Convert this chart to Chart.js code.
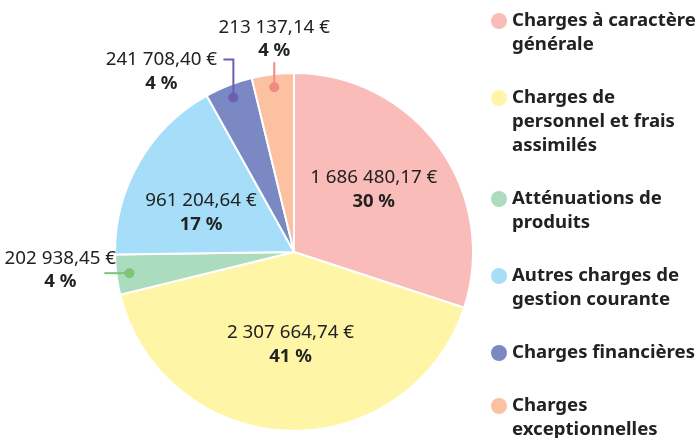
<!DOCTYPE html>
<html>
<head>
<meta charset="utf-8">
<script src="https://cdn.jsdelivr.net/npm/chart.js@4/dist/chart.umd.min.js"></script>
<style>
  html, body { margin: 0; padding: 0; background: #fff; }
  #wrap { position: relative; width: 697px; height: 438px; }
</style>
</head>
<body>
<div id="wrap"><canvas id="graf"></canvas></div>
<script>
// dados:
const categorias = [
  "Charges à caractère générale",
  "Charges de personnel et frais assimilés",
  "Atténuations de produits",
  "Autres charges de gestion courante",
  "Charges financières",
  "Charges exceptionnelles",
];
const valores = [1686480.17, 2307664.74, 202938.45, 961204.64, 241708.40, 213137.14];
const legendaLinhas = [
  ["Charges à caractère", "générale"],
  ["Charges de", "personnel et frais", "assimilés"],
  ["Atténuations de", "produits"],
  ["Autres charges de", "gestion courante"],
  ["Charges financières"],
  ["Charges", "exceptionnelles"],
];

// estilos:
const cores = ["#f9bcb8", "#fff5a6", "#acdcbe", "#a6defa", "#7a88c4", "#fcc1a0"];
const coresLinha = [null, null, "#7cc47a", null, "#6a5fb0", "#f08a84"];
const fonte = '"Noto Sans", sans-serif';
const corTexto = "#222222";

// posicionamento dos rótulos (dentro: fração do raio + ajuste; fora: linha guia)
const rotulos = [
  { tipo: "dentro", r: 0.55, dx: 0, dy: -5 },
  { tipo: "dentro", r: 0.52, dx: 0, dy: 0 },
  { tipo: "fora", modo: "esquerda" },
  { tipo: "dentro", r: 0.6, dx: 0, dy: 14 },
  { tipo: "fora", modo: "cotovelo" },
  { tipo: "fora", modo: "cima" },
];

const total = valores.reduce((a, b) => a + b, 0);

function formatarEuro(v) {
  const [int, dec] = v.toFixed(2).split(".");
  return int.replace(/\B(?=(\d{3})+(?!\d))/g, " ") + "," + dec + " €";
}
function formatarPct(v) {
  return Math.round((v / total) * 100) + " %";
}

function desenharBloco(ctx, x, y, i, align) {
  ctx.textAlign = align || "center";
  ctx.textBaseline = "middle";
  ctx.fillStyle = corTexto;
  ctx.font = "18.8px " + fonte;
  ctx.fillText(formatarEuro(valores[i]), x, y - 12);
  ctx.font = "bold 18.5px " + fonte;
  ctx.fillText(formatarPct(valores[i]), x, y + 12);
}

const pluginRotulos = {
  id: "rotulos",
  afterDatasetsDraw(chart) {
    const ctx = chart.ctx;
    const meta = chart.getDatasetMeta(0);
    ctx.save();
    meta.data.forEach((arc, i) => {
      const cfg = rotulos[i];
      const meio = (arc.startAngle + arc.endAngle) / 2;
      const R = arc.outerRadius;
      if (cfg.tipo === "dentro") {
        const x = arc.x + Math.cos(meio) * R * cfg.r + cfg.dx;
        const y = arc.y + Math.sin(meio) * R * cfg.r + cfg.dy;
        desenharBloco(ctx, x, y, i);
        return;
      }
      const px = arc.x + Math.cos(meio) * (R - 13);
      const py = arc.y + Math.sin(meio) * (R - 13);
      ctx.strokeStyle = coresLinha[i];
      ctx.fillStyle = coresLinha[i];
      ctx.lineWidth = 2;
      ctx.beginPath();
      ctx.arc(px, py, 5, 0, Math.PI * 2);
      ctx.fill();
      ctx.beginPath();
      ctx.moveTo(px, py);
      if (cfg.modo === "esquerda") {
        ctx.lineTo(px - 25, py);
        ctx.stroke();
        desenharBloco(ctx, px - 69, py - 3, i);
      } else if (cfg.modo === "cotovelo") {
        ctx.lineTo(px, py - 38);
        ctx.lineTo(px - 10, py - 38);
        ctx.stroke();
        desenharBloco(ctx, px - 72, py - 26, i);
      } else {
        ctx.lineTo(px, py - 25);
        ctx.stroke();
        desenharBloco(ctx, px, py - 48, i);
      }
    });
    ctx.restore();
  },
};

const pluginLegenda = {
  id: "legendaLateral",
  afterDraw(chart) {
    const ctx = chart.ctx;
    ctx.save();
    ctx.font = "bold 18.6px " + fonte;
    ctx.textBaseline = "middle";
    ctx.textAlign = "left";
    let y = 21;
    legendaLinhas.forEach((linhas, i) => {
      ctx.fillStyle = cores[i];
      ctx.beginPath();
      ctx.arc(499, y, 8, 0, Math.PI * 2);
      ctx.fill();
      ctx.fillStyle = corTexto;
      linhas.forEach((l, k) => ctx.fillText(l, 512, y + k * 24));
      y += linhas.length * 24 + 29;
    });
    ctx.restore();
  },
};

new Chart(document.getElementById("graf"), {
  type: "pie",
  data: {
    labels: categorias,
    datasets: [
      {
        data: valores,
        backgroundColor: cores,
        borderColor: "#ffffff",
        borderWidth: 2,
      },
    ],
  },
  options: {
    responsive: true,
    maintainAspectRatio: false,
    animation: false,
    layout: { padding: { left: 114, top: 72, right: 223, bottom: 6 } },
    plugins: {
      legend: { display: false },
      tooltip: { enabled: false },
    },
  },
  plugins: [pluginRotulos, pluginLegenda],
});
</script>
</body>
</html>
